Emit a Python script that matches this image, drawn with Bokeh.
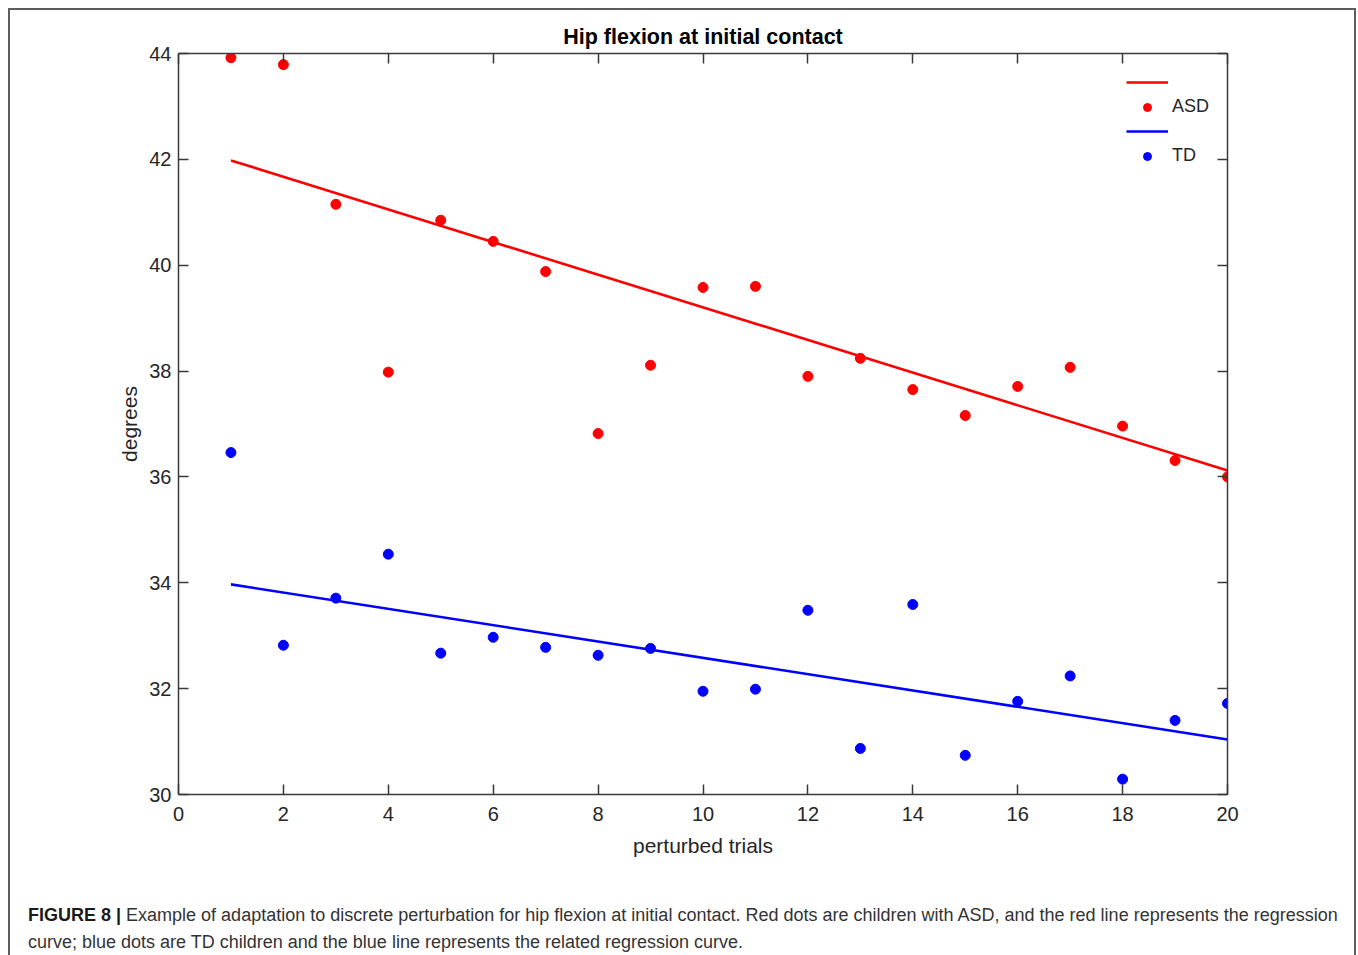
from bokeh.plotting import figure
from bokeh.models import (Range1d, FixedTicker, LinearAxis, Legend, LegendItem, Div)
from bokeh.layouts import column
from bokeh.embed import file_html
from bokeh.resources import INLINE

# ---------------- data ----------------
trials = list(range(1, 21))
asd = [43.92, 43.79, 41.15, 37.98, 40.85, 40.45, 39.88, 36.82, 38.11, 39.58,
       39.60, 37.90, 38.24, 37.65, 37.16, 37.71, 38.07, 36.96, 36.31, 36.00]
td = [36.46, 32.82, 33.71, 34.54, 32.67, 32.97, 32.78, 32.63, 32.76, 31.95,
      31.99, 33.48, 30.87, 33.59, 30.74, 31.76, 32.24, 30.29, 31.40, 31.72]
fit_x = [1, 20]
asd_fit = [41.98, 36.12]
td_fit = [33.97, 31.04]
x_ticks = [0, 2, 4, 6, 8, 10, 12, 14, 16, 18, 20]
y_ticks = [30, 32, 34, 36, 38, 40, 42, 44]

title_text = "Hip flexion at initial contact"
x_label = "perturbed trials"
y_label = "degrees"
caption_bold = "FIGURE 8 |"
caption_1 = ("Example of adaptation to discrete perturbation for hip flexion at initial "
             "contact. Red dots are children with ASD, and the red line represents the regression")
caption_2 = ("curve; blue dots are TD children and the blue line represents the related "
             "regression curve.")

FONT = "Liberation Sans"
AX = "#3a3a3a"
TXT = "#262626"

OX, OY, BW = 8, 8, 2          # outer box offset and border width
X0, Y0 = OX + BW, OY + BW      # figure origin on the page
W = 1354 - X0
H1 = 880
FL, FT, FR, FB = 178, 53, 1227, 794   # frame edges in page pixels

p = figure(width=W, height=H1, output_backend="svg", toolbar_location=None,
           x_range=Range1d(0, 20), y_range=Range1d(30, 44),
           min_border_left=FL - X0, min_border_right=X0 + W - FR,
           min_border_top=FT - Y0, min_border_bottom=Y0 + H1 - FB)
p.outline_line_color = None
p.background_fill_color = "white"
p.border_fill_color = "white"
p.xgrid.visible = False
p.ygrid.visible = False

p.title.text = title_text
p.title.align = "center"
p.title.text_font = FONT
p.title.text_font_size = "21.5px"
p.title.text_font_style = "bold"
p.title.text_color = "black"
p.title.standoff = 9


def style_axis(ax, ticks, show_labels=True):
    ax.ticker = FixedTicker(ticks=ticks)
    ax.minor_tick_line_color = None
    ax.major_tick_in = 10
    ax.major_tick_out = 0
    ax.axis_line_color = AX
    ax.axis_line_width = 1.5
    ax.major_tick_line_color = AX
    ax.major_tick_line_width = 1.5
    ax.major_label_text_font = FONT
    ax.major_label_text_color = TXT
    if show_labels:
        ax.major_label_text_font_size = "20px"
    else:
        ax.major_label_text_color = None
        ax.major_label_text_font_size = "1px"
        ax.major_label_standoff = 0


xa = p.xaxis[0]
ya = p.yaxis[0]
style_axis(xa, x_ticks)
style_axis(ya, y_ticks)
xa.major_label_standoff = 12
ya.major_label_standoff = 7
xa.axis_label = x_label
ya.axis_label = y_label
for a in (xa, ya):
    a.axis_label_text_font = FONT
    a.axis_label_text_font_size = "21px"
    a.axis_label_text_font_style = "normal"
    a.axis_label_text_color = TXT
xa.axis_label_standoff = 10
ya.axis_label_standoff = 5

top_ax = LinearAxis()
right_ax = LinearAxis()
style_axis(top_ax, x_ticks, show_labels=False)
style_axis(right_ax, y_ticks, show_labels=False)
p.add_layout(top_ax, "above")
p.add_layout(right_ax, "right")

rl = p.line(fit_x, asd_fit, line_color="#ff0000", line_width=2.6)
bl = p.line(fit_x, td_fit, line_color="#0000ff", line_width=2.6)
rs = p.scatter(trials, asd, size=10, fill_color="#ff0000", line_color="#ff0000")
bs = p.scatter(trials, td, size=10, fill_color="#0000ff", line_color="#0000ff")

legend = Legend(items=[LegendItem(label="", renderers=[rl]),
                       LegendItem(label="ASD", renderers=[rs]),
                       LegendItem(label="", renderers=[bl]),
                       LegendItem(label="TD", renderers=[bs])],
                location=(948, 628))
legend.padding = 0
legend.margin = 0
legend.border_line_color = None
legend.background_fill_alpha = 0
legend.glyph_width = 42
legend.glyph_height = 20
legend.label_height = 20
legend.spacing = 4
legend.label_standoff = 4
legend.label_text_font = FONT
legend.label_text_font_size = "18px"
legend.label_text_color = TXT
p.add_layout(legend)

H2 = 62
cap_html = (
    f"<div style=\"font-family:'{FONT}',Arial,sans-serif;font-size:18px;line-height:27px;"
    f"color:#333333;padding:7px 0 0 {23 - X0}px;white-space:nowrap;\">"
    f"<b style=\"color:#1a1a1a\">{caption_bold}</b> {caption_1}<br>{caption_2}</div>"
)
cap = Div(text=cap_html, width=W, height=H2)

border_css = f"{BW}px solid #5e5e5e"
box_w = f"{W + 2 * BW}px"
layout = column(p, cap, margin=(OY, 0, 0, OX),
                styles={"border-top": border_css, "border-left": border_css,
                        "border-right": border_css, "box-sizing": "border-box",
                        "width": box_w, "min-width": box_w, "max-width": box_w})

open("out.html", "w").write(file_html(layout, INLINE))
